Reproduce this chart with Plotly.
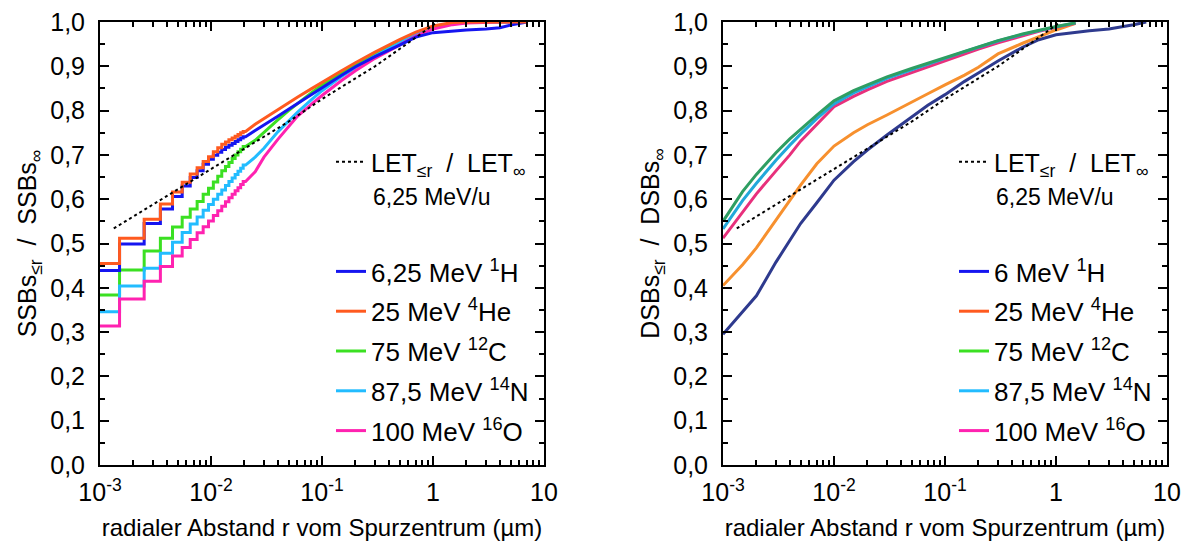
import plotly.graph_objects as go

# ---------------- data ----------------
# left panel (SSB): 1 nm wide radial bins (centres in µm), then coarser points
r_step = [0.001, 0.002, 0.003, 0.004, 0.005, 0.006, 0.007, 0.008, 0.009, 0.010,
          0.011, 0.012, 0.013, 0.014, 0.015, 0.016, 0.017, 0.018, 0.019, 0.020]
bin_half = 0.0005
r_tail_left = [0.025, 0.03, 0.04, 0.05, 0.06, 0.08, 0.1, 0.15, 0.2, 0.3, 0.5, 0.7,
               1.0, 1.5, 2.0, 3.0, 4.0, 5.0, 7.0]

ssb_h_step = [0.439, 0.499, 0.545, 0.578, 0.606, 0.630, 0.649, 0.664, 0.679, 0.690,
              0.699, 0.706, 0.712, 0.717, 0.722, 0.726, 0.730, 0.734, 0.738, 0.741]
ssb_h_tail = [0.755, 0.767, 0.787, 0.803, 0.816, 0.836, 0.851, 0.880, 0.899, 0.922,
              0.948, 0.966, 0.976, 0.980, 0.982, 0.984, 0.987, 0.993, 1.0]

ssb_he_step = [0.455, 0.512, 0.555, 0.589, 0.616, 0.638, 0.657, 0.671, 0.685, 0.696,
               0.707, 0.716, 0.724, 0.729, 0.734, 0.738, 0.742, 0.746, 0.750, 0.753]
ssb_he_tail = [0.769, 0.782, 0.802, 0.818, 0.830, 0.849, 0.864, 0.890, 0.908, 0.932,
               0.960, 0.977, 0.991, 0.999, 1.0, 1.0, 1.0, 1.0, 1.0]

ssb_c_step = [0.384, 0.440, 0.483, 0.512, 0.537, 0.559, 0.578, 0.595, 0.611, 0.625,
              0.639, 0.652, 0.664, 0.674, 0.683, 0.692, 0.700, 0.707, 0.713, 0.719]
ssb_c_tail = [0.733, 0.750, 0.779, 0.800, 0.816, 0.840, 0.858, 0.885, 0.903, 0.927,
              0.956, 0.974, 0.988, 0.997, 1.0, 1.0, 1.0, 1.0, 1.0]

ssb_n_step = [0.346, 0.404, 0.444, 0.478, 0.503, 0.525, 0.544, 0.560, 0.575, 0.588,
              0.600, 0.611, 0.621, 0.631, 0.640, 0.648, 0.656, 0.663, 0.670, 0.677]
ssb_n_tail = [0.695, 0.715, 0.752, 0.777, 0.796, 0.824, 0.845, 0.877, 0.897, 0.923,
              0.953, 0.972, 0.987, 0.996, 1.0, 1.0, 1.0, 1.0, 1.0]

ssb_o_step = [0.314, 0.375, 0.415, 0.448, 0.472, 0.491, 0.509, 0.524, 0.538, 0.551,
              0.563, 0.574, 0.584, 0.594, 0.603, 0.611, 0.619, 0.626, 0.633, 0.640]
ssb_o_tail = [0.662, 0.695, 0.735, 0.765, 0.787, 0.814, 0.834, 0.868, 0.890, 0.918,
              0.949, 0.968, 0.984, 0.994, 0.998, 1.0, 1.0, 1.0, 1.0]

# right panel (DSB)
r_right = [0.001, 0.0015, 0.002, 0.003, 0.004, 0.005, 0.007, 0.01, 0.015, 0.02, 0.03,
           0.05, 0.07, 0.1, 0.15, 0.2, 0.3, 0.5, 0.7, 1.0, 1.5]
r_right_h = r_right + [2.0, 3.0, 4.0, 5.0, 6.5]
dsb_h = [0.295, 0.345, 0.382, 0.458, 0.508, 0.545, 0.592, 0.643, 0.685, 0.711, 0.745,
         0.785, 0.812, 0.836, 0.866, 0.885, 0.912, 0.943, 0.960, 0.971, 0.977,
         0.980, 0.984, 0.989, 0.994, 1.0]
dsb_he = [0.405, 0.452, 0.490, 0.552, 0.598, 0.632, 0.680, 0.720, 0.750, 0.768, 0.790,
          0.818, 0.838, 0.858, 0.880, 0.898, 0.928, 0.952, 0.966, 0.982, 0.997]
dsb_c = [0.550, 0.617, 0.656, 0.705, 0.736, 0.758, 0.790, 0.822, 0.845, 0.858, 0.876,
         0.895, 0.907, 0.920, 0.935, 0.945, 0.958, 0.973, 0.982, 0.990, 0.998]
dsb_n = [0.533, 0.597, 0.636, 0.688, 0.722, 0.747, 0.782, 0.815, 0.840, 0.854, 0.873,
         0.892, 0.905, 0.918, 0.933, 0.943, 0.957, 0.972, 0.981, 0.989, 0.998]
dsb_o = [0.512, 0.572, 0.612, 0.664, 0.700, 0.731, 0.770, 0.809, 0.832, 0.847, 0.866,
         0.886, 0.899, 0.912, 0.928, 0.939, 0.953, 0.969, 0.979, 0.988, 0.997]

# LET ratio (6,25 MeV/u), same in both panels
r_let = [0.00133, 0.002, 0.005, 0.01, 0.02, 0.05, 0.1, 0.2, 0.3, 0.5, 0.7, 1.0, 1.1]
let_ratio = [0.534, 0.561, 0.621, 0.667, 0.713, 0.775, 0.826, 0.872, 0.900, 0.939,
             0.966, 0.993, 1.0]

labels_left = ["6,25 MeV <sup>1</sup>H", "25 MeV <sup>4</sup>He", "75 MeV <sup>12</sup>C",
               "87,5 MeV <sup>14</sup>N", "100 MeV <sup>16</sup>O"]
labels_right = ["6 MeV <sup>1</sup>H", "25 MeV <sup>4</sup>He", "75 MeV <sup>12</sup>C",
                "87,5 MeV <sup>14</sup>N", "100 MeV <sup>16</sup>O"]
let_label = "LET<sub>≤r</sub>\u00a0 /\u00a0 LET<sub>∞</sub>"
energy_note = "6,25 MeV/u"

x_tickvals = [0.001, 0.01, 0.1, 1, 10]
x_ticktext = ["10<sup>-3</sup>", "10<sup>-2</sup>", "10<sup>-1</sup>", "1", "10"]
y_tickvals = [0.0, 0.1, 0.2, 0.3, 0.4, 0.5, 0.6, 0.7, 0.8, 0.9, 1.0]
y_ticktext = ["0,0", "0,1", "0,2", "0,3", "0,4", "0,5", "0,6", "0,7", "0,8", "0,9", "1,0"]

x_title = "radialer Abstand r vom Spurzentrum (µm)"
y_title_left = "SSBs<sub>≤r</sub>\u00a0 /\u00a0 SSBs<sub>∞</sub>"
y_title_right = "DSBs<sub>≤r</sub>\u00a0 /\u00a0 DSBs<sub>∞</sub>"

# ---------------- styles ----------------
legend_colors = ["#1515F0", "#FF5A1F", "#3BE022", "#22BCFF", "#FF22B0"]
right_colors = ["#2E3A8E", "#F7902E", "#2E9E62", "#22A8DA", "#E8307C"]
FONT = "Liberation Sans, Arial, sans-serif"


def step_curve(centres, values, half, tail_r, tail_v):
    xs, ys = [], []
    for r, v in zip(centres, values):
        xs += [r - half, r + half]
        ys += [v, v]
    return xs + list(tail_r), ys + list(tail_v)


fig = go.Figure()

left_sets = [(ssb_h_step, ssb_h_tail), (ssb_he_step, ssb_he_tail),
             (ssb_c_step, ssb_c_tail), (ssb_n_step, ssb_n_tail),
             (ssb_o_step, ssb_o_tail)]
order = [0, 1, 2, 3, 4]
draw_order_left = [2, 3, 4, 0, 1]
for i in draw_order_left:
    st, tl = left_sets[i]
    xs, ys = step_curve(r_step, st, bin_half, r_tail_left, tl)
    fig.add_trace(go.Scatter(x=xs, y=ys, mode="lines", xaxis="x", yaxis="y",
                             line=dict(color=legend_colors[i], width=3),
                             showlegend=False, hoverinfo="skip"))

fig.add_trace(go.Scatter(x=r_let, y=let_ratio, mode="lines", xaxis="x", yaxis="y",
                         line=dict(color="black", width=2, dash="dot"),
                         name=let_label, legend="legend"))
for i in order:
    fig.add_trace(go.Scatter(x=[None], y=[None], mode="lines", xaxis="x", yaxis="y",
                             line=dict(color=legend_colors[i], width=3),
                             name=labels_left[i], legend="legend2",
                             legendgroup="l%d" % i))

right_sets = [(r_right_h, dsb_h), (r_right, dsb_he), (r_right, dsb_c),
              (r_right, dsb_n), (r_right, dsb_o)]
for i in [0, 1, 4, 3, 2]:
    rr, vv = right_sets[i]
    fig.add_trace(go.Scatter(x=rr, y=vv, mode="lines", xaxis="x2", yaxis="y2",
                             line=dict(color=right_colors[i], width=3),
                             showlegend=False, hoverinfo="skip"))
fig.add_trace(go.Scatter(x=r_let, y=let_ratio, mode="lines", xaxis="x2", yaxis="y2",
                         line=dict(color="black", width=2, dash="dot"),
                         name=let_label, legend="legend3"))
for i in order:
    fig.add_trace(go.Scatter(x=[None], y=[None], mode="lines", xaxis="x2", yaxis="y2",
                             line=dict(color=legend_colors[i], width=3),
                             name=labels_right[i], legend="legend4",
                             legendgroup="r%d" % i))

W, H = 1188, 543
xl = [100 / W, 544 / W]
xr = [723 / W, 1167 / W]
yd = [1 - 465 / H, 1 - 22 / H]


def xaxis(domain, anchor):
    return dict(type="log", range=[-3, 1], domain=domain, anchor=anchor,
                automargin=False,
                tickmode="array", tickvals=x_tickvals, ticktext=x_ticktext,
                ticks="inside", ticklen=9, tickwidth=2, tickcolor="black",
                linecolor="black", linewidth=2, mirror="ticks",
                showgrid=False, zeroline=False,
                minor=dict(ticks="inside", ticklen=5, tickwidth=1.5,
                           tickcolor="black", dtick="D1", showgrid=False),
                ticklabelstandoff=4,
                tickfont=dict(family=FONT, size=25, color="black"),
                title=dict(text=x_title, standoff=14,
                           font=dict(family=FONT, size=24, color="black")))


def yaxis(domain, anchor, title):
    return dict(range=[0, 1], domain=domain, anchor=anchor,
                automargin=False,
                tickmode="array", tickvals=y_tickvals, ticktext=y_ticktext,
                ticks="inside", ticklen=9, tickwidth=2, tickcolor="black",
                linecolor="black", linewidth=2, mirror="ticks",
                showgrid=False, zeroline=False,
                minor=dict(ticks="inside", ticklen=5, tickwidth=1.5,
                           tickcolor="black", dtick=0.05, showgrid=False),
                ticklabelstandoff=8,
                tickfont=dict(family=FONT, size=25, color="black"),
                title=dict(text=title, standoff=6,
                           font=dict(family=FONT, size=25, color="black")))


leg_font = dict(family=FONT, size=26, color="black")
let_font = dict(family=FONT, size=25, color="black")
fig.update_layout(
    width=W, height=H, autosize=False,
    margin=dict(l=0, r=0, t=0, b=0),
    paper_bgcolor="white", plot_bgcolor="white",
    font=dict(family=FONT, color="black"),
    xaxis=xaxis(xl, "y"), yaxis=yaxis(yd, "x", y_title_left),
    xaxis2=xaxis(xr, "y2"), yaxis2=yaxis(yd, "x2", y_title_right),
    legend=dict(x=331 / W, y=1 - 139 / H, xanchor="left", yanchor="top",
                bgcolor="rgba(0,0,0,0)", font=let_font),
    legend2=dict(x=331 / W, y=1 - 248 / H, xanchor="left", yanchor="top",
                 bgcolor="rgba(0,0,0,0)", font=leg_font,
                 traceorder="grouped", tracegroupgap=3),
    legend3=dict(x=954 / W, y=1 - 139 / H, xanchor="left", yanchor="top",
                 bgcolor="rgba(0,0,0,0)", font=let_font),
    legend4=dict(x=954 / W, y=1 - 248 / H, xanchor="left", yanchor="top",
                 bgcolor="rgba(0,0,0,0)", font=leg_font,
                 traceorder="grouped", tracegroupgap=3),
    annotations=[
        dict(text=energy_note, xref="paper", yref="paper", x=371 / W, y=1 - 197 / H,
             xanchor="left", yanchor="middle", showarrow=False,
             font=dict(family=FONT, size=23, color="black")),
        dict(text=energy_note, xref="paper", yref="paper", x=994 / W, y=1 - 197 / H,
             xanchor="left", yanchor="middle", showarrow=False,
             font=dict(family=FONT, size=23, color="black")),
    ],
)

fig.write_html("out.html")
